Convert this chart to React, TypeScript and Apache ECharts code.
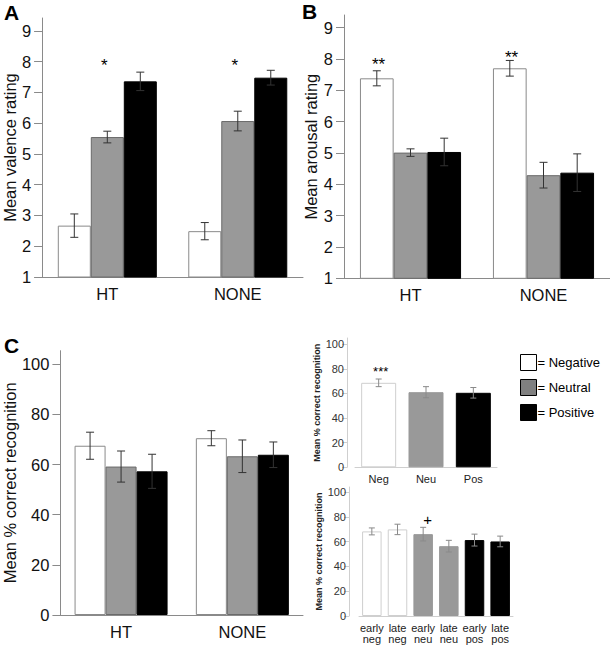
import React, { useEffect, useRef } from 'react';
import * as echarts from 'echarts';

// ---------- data ----------
const groups = ['HT', 'NONE'];
const valenceNeg = [2.67, 2.49];
const valenceNeu = [5.55, 6.07];
const valencePos = [7.36, 7.48];
const valenceNegErr = [0.38, 0.28];
const valenceNeuErr = [0.19, 0.32];
const valencePosErr = [0.3, 0.24];
const valenceSigText = ['*', '*'];
const valenceSigY = [7.87, 7.87];

const arousalNeg = [7.38, 7.7];
const arousalNeu = [5.01, 4.29];
const arousalPos = [5.03, 4.37];
const arousalNegErr = [0.24, 0.25];
const arousalNeuErr = [0.12, 0.41];
const arousalPosErr = [0.44, 0.6];
const arousalSigText = ['**', '**'];
const arousalSigY = [7.81, 8.06];

const recogNeg = [67.5, 70.5];
const recogNeu = [59.2, 63.3];
const recogPos = [57.3, 63.9];
const recogNegErr = [5.4, 3.0];
const recogNeuErr = [6.2, 6.5];
const recogPosErr = [6.8, 5.1];

const emotionCats = ['Neg', 'Neu', 'Pos'];
const emotionMeans = [68.6, 61.0, 60.5];
const emotionErr = [3.1, 4.5, 4.3];
const emotionSigText = ['***'];
const emotionSigY = [77.8];

const phaseCats = ['early\nneg', 'late\nneg', 'early\nneu', 'late\nneu', 'early\npos', 'late\npos'];
const phaseMeans = [68.2, 69.8, 66.0, 56.3, 61.2, 60.1];
const phaseErr = [2.8, 4.2, 5.5, 4.7, 4.8, 4.3];
const phaseSigText = ['', '', '+'];
const phaseSigY = [0, 0, 77.4];

const ratingTicks = [1, 2, 3, 4, 5, 6, 7, 8, 9];
const pctTicks = [0, 20, 40, 60, 80, 100];
const legendNames = ['Negative', 'Neutral', 'Positive'];

// ---------- styles ----------
const FONT = 'Liberation Sans, Arial, sans-serif';
const MAIN_FS = 16.5;
const WHITE = '#ffffff';
const GRAY = '#999999';
const BLACK = '#000000';
const AXIS = '#8a8a8a';
const LIGHT_AXIS = '#cfcfcf';
const emotionColors = [WHITE, GRAY, BLACK];
const emotionBorders = [LIGHT_AXIS, GRAY, BLACK];
const phaseColors = [WHITE, WHITE, GRAY, GRAY, BLACK, BLACK];
const phaseBorders = [LIGHT_AXIS, LIGHT_AXIS, GRAY, GRAY, BLACK, BLACK];

function errRenderer(offset: number, color: string, cap: number) {
  return (params: any, api: any) => {
    const x = api.value(0);
    const m = api.value(1);
    const e = api.value(2);
    const top = api.coord([x, m + e]);
    const bot = api.coord([x, m - e]);
    const cx = top[0] + offset;
    const style = { stroke: color, lineWidth: 1 };
    return {
      type: 'group',
      children: [
        { type: 'line', shape: { x1: cx, y1: top[1], x2: cx, y2: bot[1] }, style },
        { type: 'line', shape: { x1: cx - cap, y1: top[1], x2: cx + cap, y2: top[1] }, style },
        { type: 'line', shape: { x1: cx - cap, y1: bot[1], x2: cx + cap, y2: bot[1] }, style },
      ],
    };
  };
}

function sigRenderer(offset: number, fontSize: number, texts: string[], weight = 'normal') {
  return (params: any, api: any) => {
    const x = api.value(0);
    const y = api.value(1);
    const t = texts[params.dataIndex];
    if (!t) return null;
    const p = api.coord([x, y]);
    return {
      type: 'text',
      x: p[0] + offset,
      y: p[1],
      style: {
        text: t,
        fontSize,
        fontFamily: FONT,
        fontWeight: weight,
        fill: '#000',
        align: 'center',
        verticalAlign: 'middle',
      },
    };
  };
}

function mainXAxis(gridIndex: number) {
  return {
    gridIndex,
    type: 'category',
    data: groups,
    axisLine: { lineStyle: { color: AXIS, width: 1 } },
    axisTick: { alignWithLabel: true, length: 7, lineStyle: { color: AXIS } },
    axisLabel: { fontSize: MAIN_FS, color: '#111', margin: 8, fontFamily: FONT },
  };
}

function mainYAxis(gridIndex: number, min: number, max: number, ticks: number[], name: string, nameGap: number) {
  return {
    gridIndex,
    type: 'value',
    min,
    max,
    splitLine: { show: false },
    axisLine: { show: true, lineStyle: { color: AXIS, width: 1 } },
    axisTick: { show: true, length: 8, customValues: ticks, lineStyle: { color: AXIS } },
    axisLabel: {
      customValues: ticks,
      fontSize: MAIN_FS,
      color: '#111',
      margin: 11,
      fontFamily: FONT,
      formatter: (v: number) => (ticks.indexOf(v) >= 0 ? String(v) : ''),
    },
    name,
    nameLocation: 'middle',
    nameGap,
    nameTextStyle: { fontSize: MAIN_FS, color: '#111', fontFamily: FONT },
  };
}

function insetYAxis(gridIndex: number, offset: number, max: number) {
  return {
    gridIndex,
    type: 'value',
    min: 0,
    max,
    offset,
    splitLine: { show: false },
    axisLine: { show: true, lineStyle: { color: LIGHT_AXIS, width: 1 } },
    axisTick: { show: true, length: 5, customValues: pctTicks, lineStyle: { color: LIGHT_AXIS } },
    axisLabel: {
      customValues: pctTicks,
      fontSize: 11,
      color: '#333',
      margin: 3,
      fontFamily: FONT,
      formatter: (v: number) => (pctTicks.indexOf(v) >= 0 ? String(v) : ''),
    },
    name: 'Mean % correct recognition',
    nameLocation: 'middle',
    nameGap: 19,
    nameTextStyle: { fontSize: 9, fontWeight: 'bold', color: '#222', fontFamily: FONT },
  };
}

function insetXAxis(gridIndex: number, data: string[]) {
  return {
    gridIndex,
    type: 'category',
    data,
    axisLine: { lineStyle: { color: LIGHT_AXIS, width: 1 } },
    axisTick: { alignWithLabel: true, length: 4, lineStyle: { color: LIGHT_AXIS } },
    axisLabel: { fontSize: 11, color: '#222', margin: 6, fontFamily: FONT, lineHeight: 11, interval: 0 },
  };
}

function barTriplet(
  gi: number,
  neg: number[], neu: number[], pos: number[],
  negE: number[], neuE: number[], posE: number[],
  bw: number, gap: string,
) {
  const vals = [neg, neu, pos];
  const errs = [negE, neuE, posE];
  const colors = [WHITE, GRAY, BLACK];
  const borders = [AXIS, '#6a6a6a', BLACK];
  const out: any[] = [];
  vals.forEach((v, k) => {
    out.push({
      type: 'bar',
      name: legendNames[k],
      xAxisIndex: gi,
      yAxisIndex: gi,
      data: v,
      barWidth: bw,
      barGap: '0%',
      barCategoryGap: gap,
      itemStyle: { color: colors[k], borderColor: borders[k], borderWidth: 1 },
      z: 2,
    });
  });
  errs.forEach((e, k) => {
    out.push({
      type: 'custom',
      xAxisIndex: gi,
      yAxisIndex: gi,
      renderItem: errRenderer((k - 1) * bw, '#333', 4),
      data: e.map((err, i) => [i, vals[k][i], err]),
      z: 5,
      silent: true,
    });
  });
  return out;
}

export default function App() {
  const ref = useRef<HTMLDivElement>(null);
  useEffect(() => {
    if (!ref.current) return;
    const chart = echarts.init(ref.current, null, { renderer: 'svg' });
    const option: any = {
      animation: false,
      backgroundColor: '#ffffff',
      textStyle: { fontFamily: FONT },
      grid: [
        { left: 40, top: 18, width: 263, height: 259 },
        { left: 344, top: 15, width: 266, height: 263.3 },
        { left: 55, top: 350.7, width: 248, height: 264.3 },
        { left: 355, top: 338, width: 142, height: 129.3 },
        { left: 359, top: 487, width: 154, height: 129 },
      ],
      xAxis: [
        mainXAxis(0),
        mainXAxis(1),
        mainXAxis(2),
        insetXAxis(3, emotionCats),
        insetXAxis(4, phaseCats),
      ],
      yAxis: [
        mainYAxis(0, 1, 9.42, ratingTicks, 'Mean valence rating', 20),
        mainYAxis(1, 1, 9.4, ratingTicks, 'Mean arousal rating', 20),
        mainYAxis(2, 0, 105.4, pctTicks, 'Mean % correct recognition', 36),
        insetYAxis(3, 8, 105),
        insetYAxis(4, 10, 104),
      ],
      legend: {
        orient: 'vertical',
        left: 515,
        top: 349,
        itemWidth: 16,
        itemHeight: 16,
        itemGap: 8,
        icon: 'rect',
        selectedMode: false,
        formatter: '= {name}',
        textStyle: { fontSize: 13, color: '#000', fontFamily: FONT, padding: [0, 0, 0, -4] },
        itemStyle: { borderColor: '#000', borderWidth: 1 },
        data: [
          { name: 'Negative', itemStyle: { color: WHITE } },
          { name: 'Neutral', itemStyle: { color: '#808080' } },
          { name: 'Positive', itemStyle: { color: BLACK } },
        ],
      },
      graphic: [
        { type: 'text', x: 4, y: 12.5, style: { text: 'A', fontSize: 21, fontWeight: 'bold', fontFamily: FONT, fill: '#000', verticalAlign: 'middle' } },
        { type: 'text', x: 302, y: 11, style: { text: 'B', fontSize: 21, fontWeight: 'bold', fontFamily: FONT, fill: '#000', verticalAlign: 'middle' } },
        { type: 'text', x: 4, y: 345, style: { text: 'C', fontSize: 21, fontWeight: 'bold', fontFamily: FONT, fill: '#000', verticalAlign: 'middle' } },
      ],
      series: [
        ...barTriplet(0, valenceNeg, valenceNeu, valencePos, valenceNegErr, valenceNeuErr, valencePosErr, 33, '24%'),
        ...barTriplet(1, arousalNeg, arousalNeu, arousalPos, arousalNegErr, arousalNeuErr, arousalPosErr, 33.7, '24%'),
        ...barTriplet(2, recogNeg, recogNeu, recogPos, recogNegErr, recogNeuErr, recogPosErr, 31, '24%'),
        {
          type: 'custom', xAxisIndex: 0, yAxisIndex: 0, silent: true, z: 6,
          renderItem: sigRenderer(-3, 17, valenceSigText),
          data: valenceSigY.map((y, i) => [i, y]),
        },
        {
          type: 'custom', xAxisIndex: 1, yAxisIndex: 1, silent: true, z: 6,
          renderItem: sigRenderer(-32, 17, arousalSigText),
          data: arousalSigY.map((y, i) => [i, y]),
        },
        {
          type: 'bar', name: 'emotion', xAxisIndex: 3, yAxisIndex: 3, barWidth: 35,
          data: emotionMeans.map((v, i) => ({ value: v, itemStyle: { color: emotionColors[i], borderColor: emotionBorders[i], borderWidth: 1 } })),
        },
        {
          type: 'custom', xAxisIndex: 3, yAxisIndex: 3, silent: true, z: 5,
          renderItem: errRenderer(0, '#8a8a8a', 3),
          data: emotionErr.map((e, i) => [i, emotionMeans[i], e]),
        },
        {
          type: 'custom', xAxisIndex: 3, yAxisIndex: 3, silent: true, z: 6,
          renderItem: sigRenderer(2, 13, emotionSigText),
          data: emotionSigY.map((y, i) => [i, y]),
        },
        {
          type: 'bar', name: 'phase', xAxisIndex: 4, yAxisIndex: 4, barWidth: 19.5,
          data: phaseMeans.map((v, i) => ({ value: v, itemStyle: { color: phaseColors[i], borderColor: phaseBorders[i], borderWidth: 1 } })),
        },
        {
          type: 'custom', xAxisIndex: 4, yAxisIndex: 4, silent: true, z: 5,
          renderItem: errRenderer(0, '#8a8a8a', 3),
          data: phaseErr.map((e, i) => [i, phaseMeans[i], e]),
        },
        {
          type: 'custom', xAxisIndex: 4, yAxisIndex: 4, silent: true, z: 6,
          renderItem: sigRenderer(4.5, 15, phaseSigText),
          data: phaseSigY.map((y, i) => [i, y]),
        },
      ],
    };
    chart.setOption(option);
    return () => chart.dispose();
  }, []);
  return (
    <div
      ref={ref}
      style={{ position: 'fixed', left: 0, top: 0, width: 610, height: 648, background: '#fff' }}
    />
  );
}
